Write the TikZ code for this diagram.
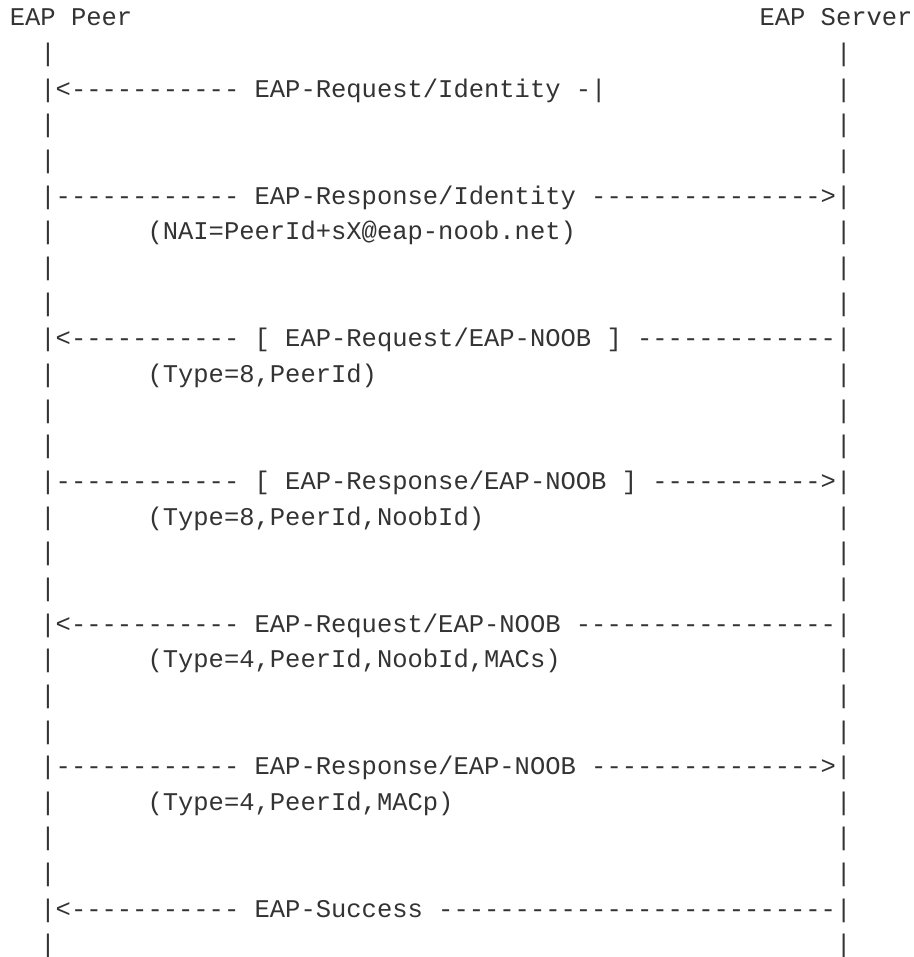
\documentclass[tikz,border=0pt]{standalone}
\usepackage{fontspec}
\setmonofont{Liberation Mono}
\definecolor{ink}{HTML}{333333}
\ExplSyntaxOn
\cs_new:Npn \dashrun #1 { \prg_replicate:nn {#1} {-} }
\ExplSyntaxOff
\tikzset{
  seg/.style={anchor=base west, inner sep=0pt, outer sep=0pt, text=ink,
    font=\ttfamily\fontsize{25.5pt}{30pt}\selectfont}
}
\begin{document}
\begin{tikzpicture}
\fill[white] (0pt,0pt) rectangle (913pt,-957pt);
\useasboundingbox (0pt,0pt) rectangle (913pt,-957pt);
\begin{scope}[x=15.3pt, y=-35.65pt, shift={(9.8pt,9.65pt)}]
  % headers
  \node[seg] (peer)   at (0,1)  {EAP Peer};
  \node[seg] (server) at (49,1) {EAP Server};
  % life lines
  \foreach \l in {2,4,5,7,8,9,11,12,13,15,16,17,19,20,21,23,24,25,27}
    \node[seg] (lb\l) at (2,\l) {|};
  \foreach \l in {2,3,4,5,7,8,9,11,12,13,15,16,17,19,20,21,23,24,25,27}
    \node[seg] (rb\l) at (54,\l) {|};
  % line 3
  \node[seg] (m1a) at (2,3)  {|<\dashrun{11}};
  \node[seg] (m1b) at (16,3) {EAP-Request/Identity -|};
  % line 6
  \node[seg] (m2a) at (2,6)  {|\dashrun{12}};
  \node[seg] (m2b) at (16,6) {EAP-Response/Identity \dashrun{15}>|};
  \node[seg] (p2)  at (9,7)  {(NAI=PeerId+sX@eap-noob.net)};
  % line 10
  \node[seg] (m3a) at (2,10)  {|<\dashrun{11}};
  \node[seg] (m3b) at (16,10) {[ EAP-Request/EAP-NOOB ] \dashrun{13}|};
  \node[seg] (p3)  at (9,11)  {(Type=8,PeerId)};
  % line 14
  \node[seg] (m4a) at (2,14)  {|\dashrun{12}};
  \node[seg] (m4b) at (16,14) {[ EAP-Response/EAP-NOOB ] \dashrun{11}>|};
  \node[seg] (p4)  at (9,15)  {(Type=8,PeerId,NoobId)};
  % line 18
  \node[seg] (m5a) at (2,18)  {|<\dashrun{11}};
  \node[seg] (m5b) at (16,18) {EAP-Request/EAP-NOOB \dashrun{17}|};
  \node[seg] (p5)  at (9,19)  {(Type=4,PeerId,NoobId,MACs)};
  % line 22
  \node[seg] (m6a) at (2,22)  {|\dashrun{12}};
  \node[seg] (m6b) at (16,22) {EAP-Response/EAP-NOOB \dashrun{15}>|};
  \node[seg] (p6)  at (9,23)  {(Type=4,PeerId,MACp)};
  % line 26
  \node[seg] (m7a) at (2,26)  {|<\dashrun{11}};
  \node[seg] (m7b) at (16,26) {EAP-Success \dashrun{26}|};
\end{scope}
\end{tikzpicture}
\end{document}
